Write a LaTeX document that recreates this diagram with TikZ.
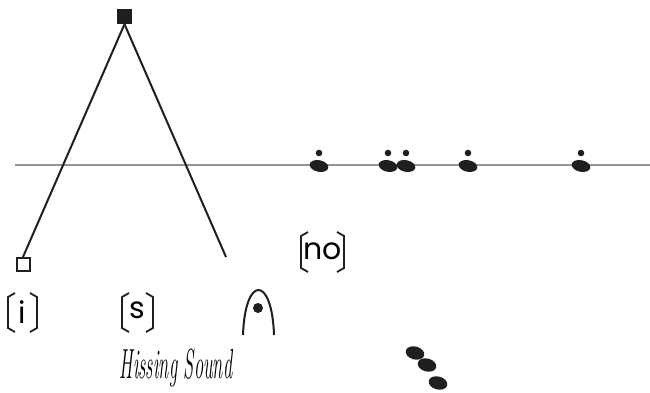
\documentclass[tikz,border=0pt]{standalone}
\usepackage{fontspec}
\newfontfamily\geo{Poppins}
\tikzset{
  bl/.style={line width=2pt, black!88},
  axisline/.style={line width=2.5pt, black!42},
  brk/.style={line width=1.8pt, black!88},
  blob/.style={fill=black!88},
}
\newcommand{\brackets}[4]{% x y w h
  \draw[brk] ({#1+7},#2) -- (#1,{#2+4}) -- (#1,{#2+#4-4}) -- ({#1+7},{#2+#4});
  \draw[brk] ({#1+#3-7},#2) -- ({#1+#3},{#2+4}) -- ({#1+#3},{#2+#4-4}) -- ({#1+#3-7},{#2+#4});
}
\newcommand{\dotmark}[1]{% x position
  \fill[blob] (#1,166) ellipse [x radius=9.5pt, y radius=5.8pt, rotate=-12];
  \fill[blob] (#1,153) circle (3.3pt);
}
\begin{document}
\begin{tikzpicture}[x=1pt,y=-1pt]
\useasboundingbox (0,0) rectangle (650,393);
% axis
\coordinate (axL) at (15,165);
\coordinate (axR) at (650,165);
\draw[axisline] (axL) -- (axR);
% tree
\node[fill=black!88, minimum size=15pt, inner sep=0pt] (top) at (124.5,16.5) {};
\node[draw=black!88, line width=2pt, minimum size=13pt, inner sep=0pt] (leaf) at (23,264.5) {};
\coordinate (rend) at (226,257);
\draw[bl] (top.south) -- (leaf.north);
\draw[bl] (top.south) -- (rend);
% dots on the line
\dotmark{319}
\dotmark{388}
\dotmark{406}
\dotmark{468}
\dotmark{581}
% lower blobs
\fill[blob] (415,353) ellipse [x radius=9.5pt, y radius=6.5pt, rotate=-15];
\fill[blob] (427,365) ellipse [x radius=9.5pt, y radius=6.5pt, rotate=-15];
\fill[blob] (438,383) ellipse [x radius=9.5pt, y radius=6.5pt, rotate=-15];
% bracketed labels
\brackets{8}{293}{29}{39}
\node[font=\geo\fontsize{30}{30}\selectfont, inner sep=0pt] (ti) at (22.5,312) {i};
\brackets{122}{293}{31}{39}
\node[font=\geo\fontsize{30}{30}\selectfont, inner sep=0pt] (ts) at (137.5,310) {s};
\brackets{301}{232}{43}{40}
\node[font=\geo\fontsize{30}{30}\selectfont, inner sep=0pt] (tno) at (322.5,251) {no};
% arch with dot
\draw[bl] (243,335) .. controls (245,275) and (272,275) .. (274,335);
\fill[blob] (258,308) circle (5pt);
% handwritten label
\node[font=\itshape\fontsize{24}{24}\selectfont, inner sep=0pt] (hiss) at (176,368) {\scalebox{0.77}[1.75]{Hissing Sound}};
\end{tikzpicture}
\end{document}
